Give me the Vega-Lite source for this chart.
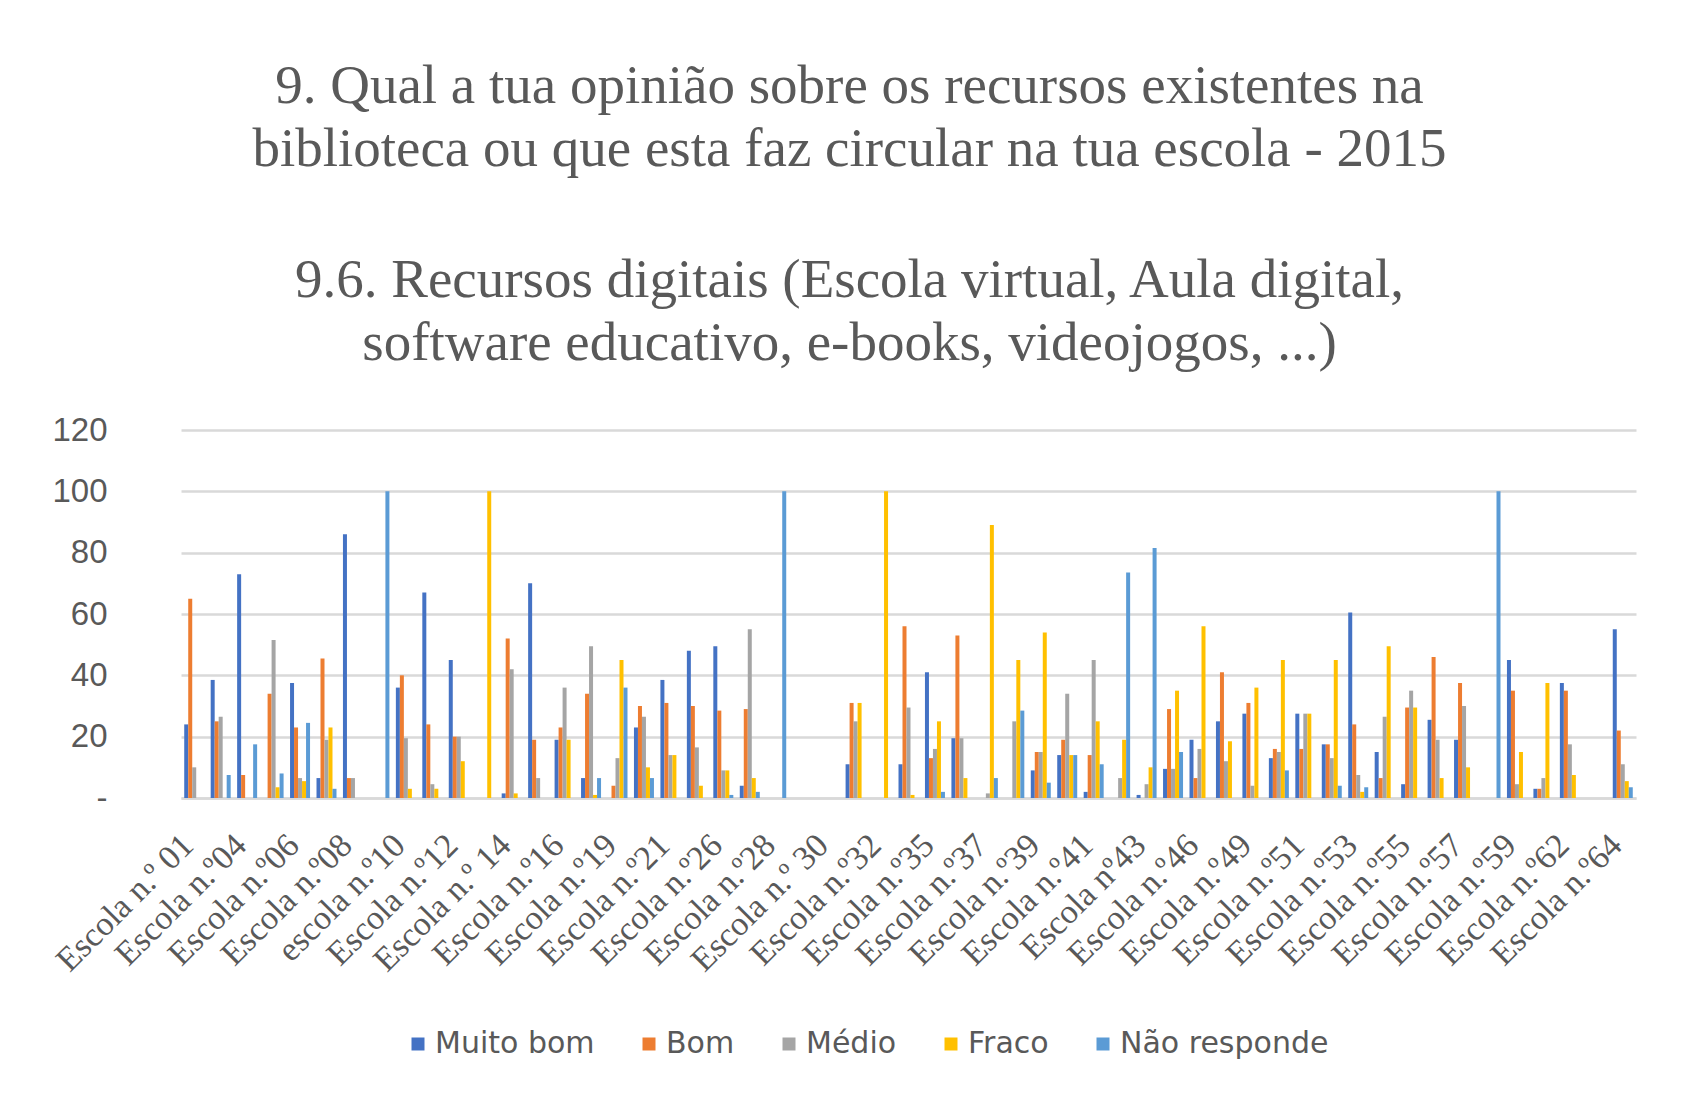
{
  "$schema": "https://vega.github.io/schema/vega-lite/v6.json",
  "width": 1455,
  "height": 368,
  "autosize": {"type": "none"},
  "padding": {"left": 181, "top": 430, "right": 48, "bottom": 302},
  "background": "white",
  "title": {
    "text": ["9. Qual a tua opinião sobre os recursos existentes na", "biblioteca ou que esta faz circular na tua escola  - 2015"],
    "subtitle": ["9.6. Recursos digitais (Escola virtual, Aula digital,", "software educativo, e-books, videojogos, ...)"],
    "font": "Liberation Serif",
    "fontSize": 55,
    "fontWeight": "normal",
    "lineHeight": 63,
    "color": "#595959",
    "subtitleFont": "Liberation Serif",
    "subtitleFontSize": 55,
    "subtitleLineHeight": 63,
    "subtitleColor": "#595959",
    "subtitlePadding": 76,
    "offset": 42,
    "dx": -59,
    "anchor": "middle"
  },
  "data": {
    "values": [
      {"escola": "Escola n.º 01", "resposta": "Muito bom", "valor": 24},
      {"escola": "Escola n.º 01", "resposta": "Bom", "valor": 65},
      {"escola": "Escola n.º 01", "resposta": "Médio", "valor": 10},
      {"escola": "Escola n.º03", "resposta": "Muito bom", "valor": 38.5},
      {"escola": "Escola n.º03", "resposta": "Bom", "valor": 25},
      {"escola": "Escola n.º03", "resposta": "Médio", "valor": 26.5},
      {"escola": "Escola n.º03", "resposta": "Não responde", "valor": 7.5},
      {"escola": "Escola n.º04", "resposta": "Muito bom", "valor": 73},
      {"escola": "Escola n.º04", "resposta": "Bom", "valor": 7.5},
      {"escola": "Escola n.º04", "resposta": "Não responde", "valor": 17.5},
      {"escola": "Escola n.º05", "resposta": "Bom", "valor": 34},
      {"escola": "Escola n.º05", "resposta": "Médio", "valor": 51.5},
      {"escola": "Escola n.º05", "resposta": "Fraco", "valor": 3.5},
      {"escola": "Escola n.º05", "resposta": "Não responde", "valor": 8},
      {"escola": "Escola n.º06", "resposta": "Muito bom", "valor": 37.5},
      {"escola": "Escola n.º06", "resposta": "Bom", "valor": 23},
      {"escola": "Escola n.º06", "resposta": "Médio", "valor": 6.5},
      {"escola": "Escola n.º06", "resposta": "Fraco", "valor": 5.5},
      {"escola": "Escola n.º06", "resposta": "Não responde", "valor": 24.5},
      {"escola": "Escola n.º07", "resposta": "Muito bom", "valor": 6.5},
      {"escola": "Escola n.º07", "resposta": "Bom", "valor": 45.5},
      {"escola": "Escola n.º07", "resposta": "Médio", "valor": 19},
      {"escola": "Escola n.º07", "resposta": "Fraco", "valor": 23},
      {"escola": "Escola n.º07", "resposta": "Não responde", "valor": 3},
      {"escola": "Escola n.º08", "resposta": "Muito bom", "valor": 86},
      {"escola": "Escola n.º08", "resposta": "Bom", "valor": 6.5},
      {"escola": "Escola n.º08", "resposta": "Médio", "valor": 6.5},
      {"escola": "Escola n.º09", "resposta": "Não responde", "valor": 100},
      {"escola": "escola n.º10", "resposta": "Muito bom", "valor": 36},
      {"escola": "escola n.º10", "resposta": "Bom", "valor": 40},
      {"escola": "escola n.º10", "resposta": "Médio", "valor": 19.5},
      {"escola": "escola n.º10", "resposta": "Fraco", "valor": 3},
      {"escola": "Escola n.º11", "resposta": "Muito bom", "valor": 67},
      {"escola": "Escola n.º11", "resposta": "Bom", "valor": 24},
      {"escola": "Escola n.º11", "resposta": "Médio", "valor": 4.5},
      {"escola": "Escola n.º11", "resposta": "Fraco", "valor": 3},
      {"escola": "Escola n.º12", "resposta": "Muito bom", "valor": 45},
      {"escola": "Escola n.º12", "resposta": "Bom", "valor": 20},
      {"escola": "Escola n.º12", "resposta": "Médio", "valor": 20},
      {"escola": "Escola n.º12", "resposta": "Fraco", "valor": 12},
      {"escola": "Escola n.º13", "resposta": "Fraco", "valor": 100},
      {"escola": "Escola n.º 14", "resposta": "Muito bom", "valor": 1.5},
      {"escola": "Escola n.º 14", "resposta": "Bom", "valor": 52},
      {"escola": "Escola n.º 14", "resposta": "Médio", "valor": 42},
      {"escola": "Escola n.º 14", "resposta": "Fraco", "valor": 1.5},
      {"escola": "Escola n.º15", "resposta": "Muito bom", "valor": 70},
      {"escola": "Escola n.º15", "resposta": "Bom", "valor": 19},
      {"escola": "Escola n.º15", "resposta": "Médio", "valor": 6.5},
      {"escola": "Escola n.º16", "resposta": "Muito bom", "valor": 19},
      {"escola": "Escola n.º16", "resposta": "Bom", "valor": 23},
      {"escola": "Escola n.º16", "resposta": "Médio", "valor": 36},
      {"escola": "Escola n.º16", "resposta": "Fraco", "valor": 19},
      {"escola": "Escola n.º18", "resposta": "Muito bom", "valor": 6.5},
      {"escola": "Escola n.º18", "resposta": "Bom", "valor": 34},
      {"escola": "Escola n.º18", "resposta": "Médio", "valor": 49.5},
      {"escola": "Escola n.º18", "resposta": "Fraco", "valor": 1},
      {"escola": "Escola n.º18", "resposta": "Não responde", "valor": 6.5},
      {"escola": "Escola n.º19", "resposta": "Bom", "valor": 4},
      {"escola": "Escola n.º19", "resposta": "Médio", "valor": 13},
      {"escola": "Escola n.º19", "resposta": "Fraco", "valor": 45},
      {"escola": "Escola n.º19", "resposta": "Não responde", "valor": 36},
      {"escola": "Escola n.º20", "resposta": "Muito bom", "valor": 23},
      {"escola": "Escola n.º20", "resposta": "Bom", "valor": 30},
      {"escola": "Escola n.º20", "resposta": "Médio", "valor": 26.5},
      {"escola": "Escola n.º20", "resposta": "Fraco", "valor": 10},
      {"escola": "Escola n.º20", "resposta": "Não responde", "valor": 6.5},
      {"escola": "Escola n.º21", "resposta": "Muito bom", "valor": 38.5},
      {"escola": "Escola n.º21", "resposta": "Bom", "valor": 31},
      {"escola": "Escola n.º21", "resposta": "Médio", "valor": 14},
      {"escola": "Escola n.º21", "resposta": "Fraco", "valor": 14},
      {"escola": "Escola n.º24", "resposta": "Muito bom", "valor": 48},
      {"escola": "Escola n.º24", "resposta": "Bom", "valor": 30},
      {"escola": "Escola n.º24", "resposta": "Médio", "valor": 16.5},
      {"escola": "Escola n.º24", "resposta": "Fraco", "valor": 4},
      {"escola": "Escola n.º26", "resposta": "Muito bom", "valor": 49.5},
      {"escola": "Escola n.º26", "resposta": "Bom", "valor": 28.5},
      {"escola": "Escola n.º26", "resposta": "Médio", "valor": 9},
      {"escola": "Escola n.º26", "resposta": "Fraco", "valor": 9},
      {"escola": "Escola n.º26", "resposta": "Não responde", "valor": 1},
      {"escola": "Escola n.º27", "resposta": "Muito bom", "valor": 4},
      {"escola": "Escola n.º27", "resposta": "Bom", "valor": 29},
      {"escola": "Escola n.º27", "resposta": "Médio", "valor": 55},
      {"escola": "Escola n.º27", "resposta": "Fraco", "valor": 6.5},
      {"escola": "Escola n.º27", "resposta": "Não responde", "valor": 2},
      {"escola": "Escola n.º28", "resposta": "Não responde", "valor": 100},
      {"escola": "Escola n.º31", "resposta": "Muito bom", "valor": 11},
      {"escola": "Escola n.º31", "resposta": "Bom", "valor": 31},
      {"escola": "Escola n.º31", "resposta": "Médio", "valor": 25},
      {"escola": "Escola n.º31", "resposta": "Fraco", "valor": 31},
      {"escola": "Escola n.º32", "resposta": "Fraco", "valor": 100},
      {"escola": "Escola n.º34", "resposta": "Muito bom", "valor": 11},
      {"escola": "Escola n.º34", "resposta": "Bom", "valor": 56},
      {"escola": "Escola n.º34", "resposta": "Médio", "valor": 29.5},
      {"escola": "Escola n.º34", "resposta": "Fraco", "valor": 1},
      {"escola": "Escola n.º35", "resposta": "Muito bom", "valor": 41},
      {"escola": "Escola n.º35", "resposta": "Bom", "valor": 13},
      {"escola": "Escola n.º35", "resposta": "Médio", "valor": 16},
      {"escola": "Escola n.º35", "resposta": "Fraco", "valor": 25},
      {"escola": "Escola n.º35", "resposta": "Não responde", "valor": 2},
      {"escola": "Escola n.º36", "resposta": "Muito bom", "valor": 19.5},
      {"escola": "Escola n.º36", "resposta": "Bom", "valor": 53},
      {"escola": "Escola n.º36", "resposta": "Médio", "valor": 19.5},
      {"escola": "Escola n.º36", "resposta": "Fraco", "valor": 6.5},
      {"escola": "Escola n.º37", "resposta": "Médio", "valor": 1.5},
      {"escola": "Escola n.º37", "resposta": "Fraco", "valor": 89},
      {"escola": "Escola n.º37", "resposta": "Não responde", "valor": 6.5},
      {"escola": "Escola n.º38", "resposta": "Médio", "valor": 25},
      {"escola": "Escola n.º38", "resposta": "Fraco", "valor": 45},
      {"escola": "Escola n.º38", "resposta": "Não responde", "valor": 28.5},
      {"escola": "Escola n.º39", "resposta": "Muito bom", "valor": 9},
      {"escola": "Escola n.º39", "resposta": "Bom", "valor": 15},
      {"escola": "Escola n.º39", "resposta": "Médio", "valor": 15},
      {"escola": "Escola n.º39", "resposta": "Fraco", "valor": 54},
      {"escola": "Escola n.º39", "resposta": "Não responde", "valor": 5},
      {"escola": "Escola n.º40", "resposta": "Muito bom", "valor": 14},
      {"escola": "Escola n.º40", "resposta": "Bom", "valor": 19},
      {"escola": "Escola n.º40", "resposta": "Médio", "valor": 34},
      {"escola": "Escola n.º40", "resposta": "Fraco", "valor": 14},
      {"escola": "Escola n.º40", "resposta": "Não responde", "valor": 14},
      {"escola": "Escola n.º41", "resposta": "Muito bom", "valor": 2},
      {"escola": "Escola n.º41", "resposta": "Bom", "valor": 14},
      {"escola": "Escola n.º41", "resposta": "Médio", "valor": 45},
      {"escola": "Escola n.º41", "resposta": "Fraco", "valor": 25},
      {"escola": "Escola n.º41", "resposta": "Não responde", "valor": 11},
      {"escola": "Escola n.º42", "resposta": "Médio", "valor": 6.5},
      {"escola": "Escola n.º42", "resposta": "Fraco", "valor": 19},
      {"escola": "Escola n.º42", "resposta": "Não responde", "valor": 73.5},
      {"escola": "Escola nº43", "resposta": "Muito bom", "valor": 1},
      {"escola": "Escola nº43", "resposta": "Médio", "valor": 4.5},
      {"escola": "Escola nº43", "resposta": "Fraco", "valor": 10},
      {"escola": "Escola nº43", "resposta": "Não responde", "valor": 81.5},
      {"escola": "Escola n.º45", "resposta": "Muito bom", "valor": 9.5},
      {"escola": "Escola n.º45", "resposta": "Bom", "valor": 29},
      {"escola": "Escola n.º45", "resposta": "Médio", "valor": 9.5},
      {"escola": "Escola n.º45", "resposta": "Fraco", "valor": 35},
      {"escola": "Escola n.º45", "resposta": "Não responde", "valor": 15},
      {"escola": "Escola n.º46", "resposta": "Muito bom", "valor": 19},
      {"escola": "Escola n.º46", "resposta": "Bom", "valor": 6.5},
      {"escola": "Escola n.º46", "resposta": "Médio", "valor": 16},
      {"escola": "Escola n.º46", "resposta": "Fraco", "valor": 56},
      {"escola": "Escola n.º48", "resposta": "Muito bom", "valor": 25},
      {"escola": "Escola n.º48", "resposta": "Bom", "valor": 41},
      {"escola": "Escola n.º48", "resposta": "Médio", "valor": 12},
      {"escola": "Escola n.º48", "resposta": "Fraco", "valor": 18.5},
      {"escola": "Escola n.º49", "resposta": "Muito bom", "valor": 27.5},
      {"escola": "Escola n.º49", "resposta": "Bom", "valor": 31},
      {"escola": "Escola n.º49", "resposta": "Médio", "valor": 4},
      {"escola": "Escola n.º49", "resposta": "Fraco", "valor": 36},
      {"escola": "Escola n.º50", "resposta": "Muito bom", "valor": 13},
      {"escola": "Escola n.º50", "resposta": "Bom", "valor": 16},
      {"escola": "Escola n.º50", "resposta": "Médio", "valor": 15},
      {"escola": "Escola n.º50", "resposta": "Fraco", "valor": 45},
      {"escola": "Escola n.º50", "resposta": "Não responde", "valor": 9},
      {"escola": "Escola n.º51", "resposta": "Muito bom", "valor": 27.5},
      {"escola": "Escola n.º51", "resposta": "Bom", "valor": 16},
      {"escola": "Escola n.º51", "resposta": "Médio", "valor": 27.5},
      {"escola": "Escola n.º51", "resposta": "Fraco", "valor": 27.5},
      {"escola": "Escola n.º52", "resposta": "Muito bom", "valor": 17.5},
      {"escola": "Escola n.º52", "resposta": "Bom", "valor": 17.5},
      {"escola": "Escola n.º52", "resposta": "Médio", "valor": 13},
      {"escola": "Escola n.º52", "resposta": "Fraco", "valor": 45},
      {"escola": "Escola n.º52", "resposta": "Não responde", "valor": 4},
      {"escola": "Escola n.º53", "resposta": "Muito bom", "valor": 60.5},
      {"escola": "Escola n.º53", "resposta": "Bom", "valor": 24},
      {"escola": "Escola n.º53", "resposta": "Médio", "valor": 7.5},
      {"escola": "Escola n.º53", "resposta": "Fraco", "valor": 2},
      {"escola": "Escola n.º53", "resposta": "Não responde", "valor": 3.5},
      {"escola": "Escola n.º54", "resposta": "Muito bom", "valor": 15},
      {"escola": "Escola n.º54", "resposta": "Bom", "valor": 6.5},
      {"escola": "Escola n.º54", "resposta": "Médio", "valor": 26.5},
      {"escola": "Escola n.º54", "resposta": "Fraco", "valor": 49.5},
      {"escola": "Escola n.º55", "resposta": "Muito bom", "valor": 4.5},
      {"escola": "Escola n.º55", "resposta": "Bom", "valor": 29.5},
      {"escola": "Escola n.º55", "resposta": "Médio", "valor": 35},
      {"escola": "Escola n.º55", "resposta": "Fraco", "valor": 29.5},
      {"escola": "Escola n.º56", "resposta": "Muito bom", "valor": 25.5},
      {"escola": "Escola n.º56", "resposta": "Bom", "valor": 46},
      {"escola": "Escola n.º56", "resposta": "Médio", "valor": 19},
      {"escola": "Escola n.º56", "resposta": "Fraco", "valor": 6.5},
      {"escola": "Escola n.º57", "resposta": "Muito bom", "valor": 19},
      {"escola": "Escola n.º57", "resposta": "Bom", "valor": 37.5},
      {"escola": "Escola n.º57", "resposta": "Médio", "valor": 30},
      {"escola": "Escola n.º57", "resposta": "Fraco", "valor": 10},
      {"escola": "Escola n.º58", "resposta": "Não responde", "valor": 100},
      {"escola": "Escola n.º59", "resposta": "Muito bom", "valor": 45},
      {"escola": "Escola n.º59", "resposta": "Bom", "valor": 35},
      {"escola": "Escola n.º59", "resposta": "Médio", "valor": 4.5},
      {"escola": "Escola n.º59", "resposta": "Fraco", "valor": 15},
      {"escola": "Escola n.º61", "resposta": "Muito bom", "valor": 3},
      {"escola": "Escola n.º61", "resposta": "Bom", "valor": 3},
      {"escola": "Escola n.º61", "resposta": "Médio", "valor": 6.5},
      {"escola": "Escola n.º61", "resposta": "Fraco", "valor": 37.5},
      {"escola": "Escola n.º62", "resposta": "Muito bom", "valor": 37.5},
      {"escola": "Escola n.º62", "resposta": "Bom", "valor": 35},
      {"escola": "Escola n.º62", "resposta": "Médio", "valor": 17.5},
      {"escola": "Escola n.º62", "resposta": "Fraco", "valor": 7.5},
      {"escola": "Escola n.º64", "resposta": "Muito bom", "valor": 55},
      {"escola": "Escola n.º64", "resposta": "Bom", "valor": 22},
      {"escola": "Escola n.º64", "resposta": "Médio", "valor": 11},
      {"escola": "Escola n.º64", "resposta": "Fraco", "valor": 5.5},
      {"escola": "Escola n.º64", "resposta": "Não responde", "valor": 3.5}
    ]
  },
  "mark": {"type": "bar"},
  "encoding": {
    "x": {
      "field": "escola",
      "type": "nominal",
      "sort": null,
      "scale": {
        "domain": ["Escola n.º 01", "Escola n.º03", "Escola n.º04", "Escola n.º05", "Escola n.º06", "Escola n.º07", "Escola n.º08", "Escola n.º09", "escola n.º10", "Escola n.º11", "Escola n.º12", "Escola n.º13", "Escola n.º 14", "Escola n.º15", "Escola n.º16", "Escola n.º18", "Escola n.º19", "Escola n.º20", "Escola n.º21", "Escola n.º24", "Escola n.º26", "Escola n.º27", "Escola n.º28", "Escola n.º29", "Escola n.º 30", "Escola n.º31", "Escola n.º32", "Escola n.º34", "Escola n.º35", "Escola n.º36", "Escola n.º37", "Escola n.º38", "Escola n.º39", "Escola n.º40", "Escola n.º41", "Escola n.º42", "Escola nº43", "Escola n.º45", "Escola n.º46", "Escola n.º48", "Escola n.º49", "Escola n.º50", "Escola n.º51", "Escola n.º52", "Escola n.º53", "Escola n.º54", "Escola n.º55", "Escola n.º56", "Escola n.º57", "Escola n.º58", "Escola n.º59", "Escola n.º61", "Escola n.º62", "Escola n.º63", "Escola n.º64"],
        "paddingInner": 0.244,
        "paddingOuter": 0.122
      },
      "axis": {
        "title": null,
        "labelAngle": -45,
        "labelAlign": "right",
        "labelBaseline": "middle",
        "labelFont": "Liberation Serif",
        "labelFontSize": 34,
        "labelColor": "#595959",
        "labelPadding": 42,
        "labelOffset": -6,
        "labelOverlap": false,
        "labelBound": false,
        "labelLimit": 0,
        "labelExpr": "round(datum.index * 54) % 2 == 0 ? datum.label : ''",
        "ticks": false,
        "domainColor": "#D9D9D9",
        "domainWidth": 2.5,
        "grid": false
      }
    },
    "xOffset": {
      "field": "resposta",
      "type": "nominal",
      "scale": {"domain": ["Muito bom", "Bom", "Médio", "Fraco", "Não responde"], "paddingInner": 0, "paddingOuter": 0}
    },
    "y": {
      "field": "valor",
      "type": "quantitative",
      "scale": {"domain": [0, 120], "nice": false},
      "axis": {
        "title": null,
        "values": [0, 20, 40, 60, 80, 100, 120],
        "labelExpr": "datum.value == 0 ? '-\u00a0\u00a0' : datum.label",
        "labelFont": "Liberation Sans",
        "labelFontSize": 33,
        "labelColor": "#595959",
        "labelPadding": 74,
        "ticks": false,
        "domain": false,
        "grid": true,
        "gridColor": "#D9D9D9",
        "gridWidth": 2.5
      }
    },
    "color": {
      "field": "resposta",
      "type": "nominal",
      "scale": {
        "domain": ["Muito bom", "Bom", "Médio", "Fraco", "Não responde"],
        "range": ["#4472C4", "#ED7D31", "#A5A5A5", "#FFC000", "#5B9BD5"]
      },
      "legend": {
        "title": null,
        "orient": "none",
        "legendX": 222,
        "legendY": 599,
        "direction": "horizontal",
        "symbolType": "square",
        "symbolSize": 169,
        "symbolStrokeWidth": 0,
        "labelFont": "DejaVu Sans",
        "labelFontSize": 30,
        "labelColor": "#595959",
        "labelLimit": 0,
        "labelOffset": 2,
        "columnPadding": 39,
        "padding": 0
      }
    }
  },
  "config": {
    "view": {"stroke": null},
    "axis": {"gridCap": "butt"}
  }
}
